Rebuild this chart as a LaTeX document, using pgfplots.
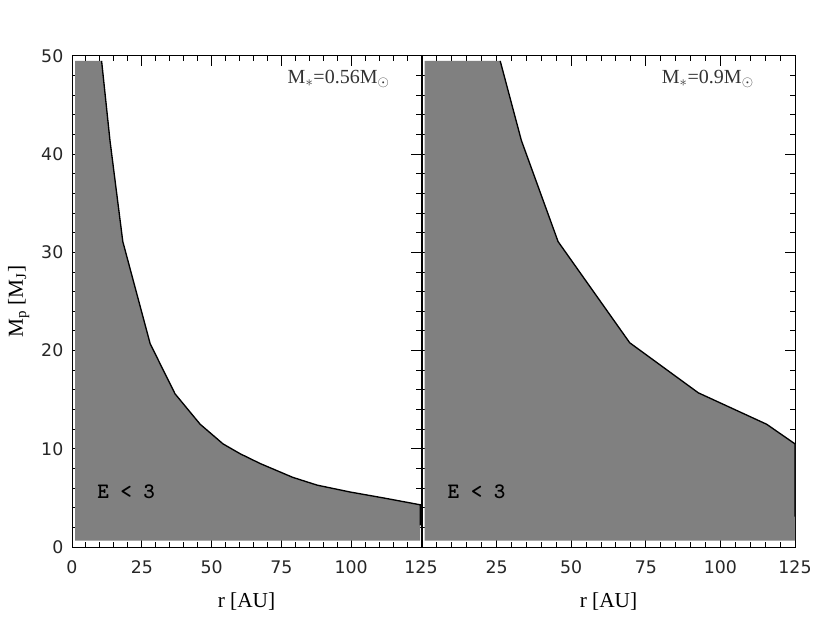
\documentclass[border=0pt]{standalone}
\usepackage{pgfplots}
\pgfplotsset{compat=1.18}
\usepackage{fontspec}
\setmainfont{Liberation Serif}
\setsansfont{DejaVu Sans}
\definecolor{fillgray}{RGB}{128,128,128}

% r [AU], M_p [M_J] along the E=3 boundary
\pgfplotstableread{
r M
10.6 49.5
13.6 41.4
18.2 31.1
28.0 20.7
36.9 15.6
45.9 12.5
54.1 10.5
60.2 9.5
67.4 8.5
79.0 7.1
87.8 6.3
99.6 5.6
111.5 5.0
124.7 4.3
124.7 2.2
}\lowmass
\pgfplotstableread{
r M
26.2 49.5
33.3 41.4
45.6 31.1
69.6 20.8
92.6 15.7
115.5 12.5
125.0 10.5
125.0 3.1
}\highmass

\pgfplotsset{
  panel/.style={
    scale only axis,
    height=368.25pt,
    xmin=0, xmax=125, ymin=0, ymax=50,
    xtick={0,25,...,125}, ytick={0,10,...,50},
    minor x tick num=4, minor y tick num=4,
    major tick length=7.5pt, minor tick length=3.75pt,
    axis line style={line width=0.75pt},
    every tick/.style={black, line width=0.75pt},
    tick label style={font=\sffamily\fontsize{13}{15}\selectfont, text=black!85},
    /pgf/number format/assume math mode=true,
    xticklabel style={yshift=-7pt},
    yticklabel style={xshift=-3pt},
    label style={font=\fontsize{16}{18}\selectfont},
    xlabel={r [AU]},
    xlabel style={yshift=-7pt},
  },
}

\begin{document}
\begin{tikzpicture}
\path[use as bounding box] (0,0) rectangle (622.5pt,468pt);

\begin{axis}[panel, at={(54pt,57.75pt)}, anchor=south west, width=261.75pt,
    ylabel={M$_\mathrm{p}$ [M$_\mathrm{J}$]}, ylabel style={yshift=2pt}]
  \addplot[draw=none, fill=fillgray] coordinates {
    (1.1,0.65) (1.1,49.5) (10.6,49.5) (13.6,41.4) (18.2,31.1) (28.0,20.7)
    (36.9,15.6) (45.9,12.5) (54.1,10.5) (60.2,9.5) (67.4,8.5) (79.0,7.1)
    (87.8,6.3) (99.6,5.6) (111.5,5.0) (124.7,4.3) (124.7,0.65)
  } --cycle;
  \addplot[black, line width=1pt] table[x=r, y=M] {\lowmass};
  \node[font=\fontsize{15}{17}\selectfont, text=black!80] at (axis cs:95.5,47.7)
    {M$_*$=0.56M$_\odot$};
  \node[font=\ttfamily\bfseries\fontsize{16.5}{18}\selectfont] at (axis cs:19.4,5.6) {E < 3};
\end{axis}

\begin{axis}[panel, at={(316.5pt,57.75pt)}, anchor=south west, width=279.75pt,
    xticklabels={,25,50,75,100,125}, yticklabels={}]
  \addplot[draw=none, fill=fillgray] coordinates {
    (0.9,0.65) (0.9,49.5) (26.2,49.5) (33.3,41.4) (45.6,31.1) (69.6,20.8)
    (92.6,15.7) (115.5,12.5) (125,10.5) (125,0.65)
  } --cycle;
  \addplot[black, line width=1pt] table[x=r, y=M] {\highmass};
  \node[font=\fontsize{15}{17}\selectfont, text=black!80] at (axis cs:95.8,47.7)
    {M$_*$=0.9M$_\odot$};
  \node[font=\ttfamily\bfseries\fontsize{16.5}{18}\selectfont] at (axis cs:18.3,5.6) {E < 3};
\end{axis}
\end{tikzpicture}
\end{document}
